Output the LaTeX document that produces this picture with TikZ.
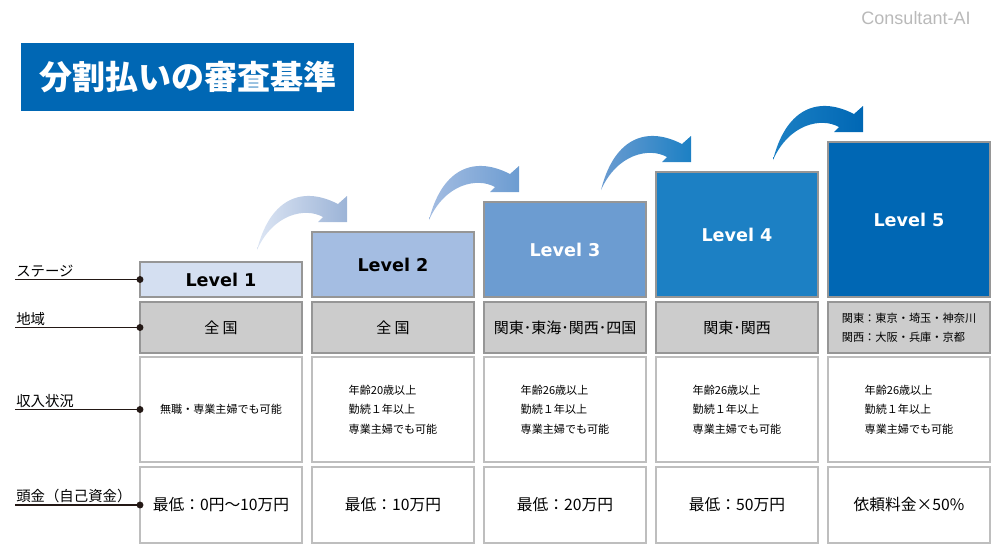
\documentclass[tikz,border=0pt]{standalone}
\usepackage{fontspec}
\setmainfont{Noto Sans CJK JP}
\newfontfamily\levelfont{DejaVu Sans}
\newfontfamily\brandfont{Liberation Sans}
\usetikzlibrary{positioning, calc}
\definecolor{titleblue}{RGB}{0,103,180}
\definecolor{lvone}{RGB}{212,223,241}
\definecolor{lvtwo}{RGB}{164,189,226}
\definecolor{lvthree}{RGB}{108,156,209}
\definecolor{lvfour}{RGB}{28,128,196}
\definecolor{lvfive}{RGB}{0,103,180}
\definecolor{cellgray}{RGB}{204,204,204}
\definecolor{edgegray}{RGB}{150,150,150}
\definecolor{lightedge}{RGB}{190,190,190}
\definecolor{leadcol}{RGB}{35,24,21}
\tikzset{
    stagebox/.style={draw=edgegray, line width=1pt, minimum width=121.5pt, inner sep=0pt, outer sep=0pt, anchor=south west, font=\levelfont\bfseries\fontsize{13.2}{15}\selectfont},
    areabox/.style={draw=edgegray, fill=cellgray, line width=1pt, minimum width=121.5pt, minimum height=38.25pt, inner sep=0pt, outer sep=0pt, font=\fontsize{11.25}{14}\selectfont},
    incomebox/.style={draw=lightedge, line width=1.1pt, minimum width=121.5pt, minimum height=78.75pt, inner sep=0pt, outer sep=0pt, align=left, font=\fontsize{8.3}{14.6}\selectfont},
    moneybox/.style={draw=lightedge, line width=1.1pt, minimum width=121.5pt, minimum height=57pt, inner sep=0pt, outer sep=0pt, font=\fontsize{11.8}{14}\selectfont},
    rowlabel/.style={anchor=south west, inner sep=0pt, font=\fontsize{10.8}{13}\selectfont},
    leader/.style={draw=leadcol, line width=0.8pt}
}

\begin{document}
\begin{tikzpicture}[x=0.75pt, y=-0.75pt]
    \useasboundingbox (0,0) rectangle (1000,554);

    % Title
    \node[fill=titleblue, text=white, anchor=north west, minimum width=249.75pt, minimum height=51pt, inner sep=0pt,
          font=\bfseries\fontsize{24.75}{28}\selectfont] (title) at (21,43) {分割払いの審査基準};
    \node[text=gray!55, font=\brandfont\fontsize{13.5}{15}\selectfont] (brand) at (916,18) {Consultant-AI};

    % Stages
    \node[stagebox, fill=lvone, minimum height=26.25pt] (lv1) at (140,297) {Level 1};
    \node[stagebox, fill=lvtwo, minimum height=48.75pt] (lv2) at (312,297) {Level 2};
    \node[stagebox, fill=lvthree, minimum height=71.25pt, text=white] (lv3) at (484,297) {Level 3};
    \node[stagebox, fill=lvfour, minimum height=93.75pt, text=white] (lv4) at (656,297) {Level 4};
    \node[stagebox, fill=lvfive, minimum height=116.25pt, text=white] (lv5) at (828,297) {Level 5};

    % Area
    \node[areabox, below=3.75pt of lv1] (rg1) {全 国};
    \node[areabox, below=3.75pt of lv2] (rg2) {全 国};
    \node[areabox, below=3.75pt of lv3] (rg3) {関東･東海･関西･四国};
    \node[areabox, below=3.75pt of lv4] (rg4) {関東･関西};
    \node[areabox, below=3.75pt of lv5, align=left, font=\fontsize{8.4}{14.25}\selectfont] (rg5) {関東：東京・埼玉・神奈川\\関西：大阪・兵庫・京都};

    % Income
    \node[incomebox, below=3pt of rg1] (inc1) {無職・専業主婦でも可能};
    \node[incomebox, below=3pt of rg2] (inc2) {年齢20歳以上\\勤続１年以上\\専業主婦でも可能};
    \node[incomebox, below=3pt of rg3] (inc3) {年齢26歳以上\\勤続１年以上\\専業主婦でも可能};
    \node[incomebox, below=3pt of rg4] (inc4) {年齢26歳以上\\勤続１年以上\\専業主婦でも可能};
    \node[incomebox, below=3pt of rg5] (inc5) {年齢26歳以上\\勤続１年以上\\専業主婦でも可能};

    % Down payment
    \node[moneybox, below=3.75pt of inc1] (dp1) {最低：0円〜10万円};
    \node[moneybox, below=3.75pt of inc2] (dp2) {最低：10万円};
    \node[moneybox, below=3.75pt of inc3] (dp3) {最低：20万円};
    \node[moneybox, below=3.75pt of inc4] (dp4) {最低：50万円};
    \node[moneybox, below=3.75pt of inc5] (dp5) {依頼料金×50\%};

    % Row labels
    \coordinate (leftEdge) at (15,0);
    \coordinate (stageEnd) at (lv1.west -| leftEdge);
    \coordinate (areaEnd) at (rg1.west -| leftEdge);
    \coordinate (incomeEnd) at (inc1.west -| leftEdge);
    \coordinate (moneyEnd) at (dp1.west -| leftEdge);
    \node[rowlabel] (stageLbl) at ($(stageEnd)+(1,-2)$) {ステージ};
    \node[rowlabel] (areaLbl) at ($(areaEnd)+(1,-2)$) {地域};
    \node[rowlabel] (incomeLbl) at ($(incomeEnd)+(1,-2)$) {収入状況};
    \node[rowlabel] (moneyLbl) at ($(moneyEnd)+(1,-2)$) {頭金（自己資金）};
    \draw[leader] (stageEnd) -- (lv1.west);
    \draw[leader] (areaEnd) -- (rg1.west);
    \draw[leader] (incomeEnd) -- (inc1.west);
    \draw[leader] (moneyEnd) -- (dp1.west);
    \fill[leadcol] (lv1.west) circle (2.6pt);
    \fill[leadcol] (rg1.west) circle (2.6pt);
    \fill[leadcol] (inc1.west) circle (2.6pt);
    \fill[leadcol] (dp1.west) circle (2.6pt);

    % Step arrows
    \shade[left color=lvone!80!white, right color=lvtwo!95!black, shift={($(lv1.north east)+(-45,-12)$)}]
        (0,0) .. controls (12,-48) and (42,-66) .. (81,-46) -- (90,-54) -- (90,-28) -- (61,-28) -- (66,-33)
        .. controls (48,-43) and (16,-36) .. (0,0) -- cycle;
    \shade[left color=lvtwo, right color=lvthree, shift={($(lv2.north east)+(-45,-12)$)}]
        (0,0) .. controls (12,-48) and (42,-66) .. (81,-46) -- (90,-54) -- (90,-28) -- (61,-28) -- (66,-33)
        .. controls (48,-43) and (16,-36) .. (0,0) -- cycle;
    \shade[left color=lvthree, right color=lvfour, shift={($(lv3.north east)+(-45,-12)$)}]
        (0,0) .. controls (12,-48) and (42,-66) .. (81,-46) -- (90,-54) -- (90,-28) -- (61,-28) -- (66,-33)
        .. controls (48,-43) and (16,-36) .. (0,0) -- cycle;
    \shade[left color=lvfour, right color=lvfive, shift={($(lv4.north east)+(-45,-12)$)}]
        (0,0) .. controls (12,-48) and (42,-66) .. (81,-46) -- (90,-54) -- (90,-28) -- (61,-28) -- (66,-33)
        .. controls (48,-43) and (16,-36) .. (0,0) -- cycle;
\end{tikzpicture}
\end{document}
